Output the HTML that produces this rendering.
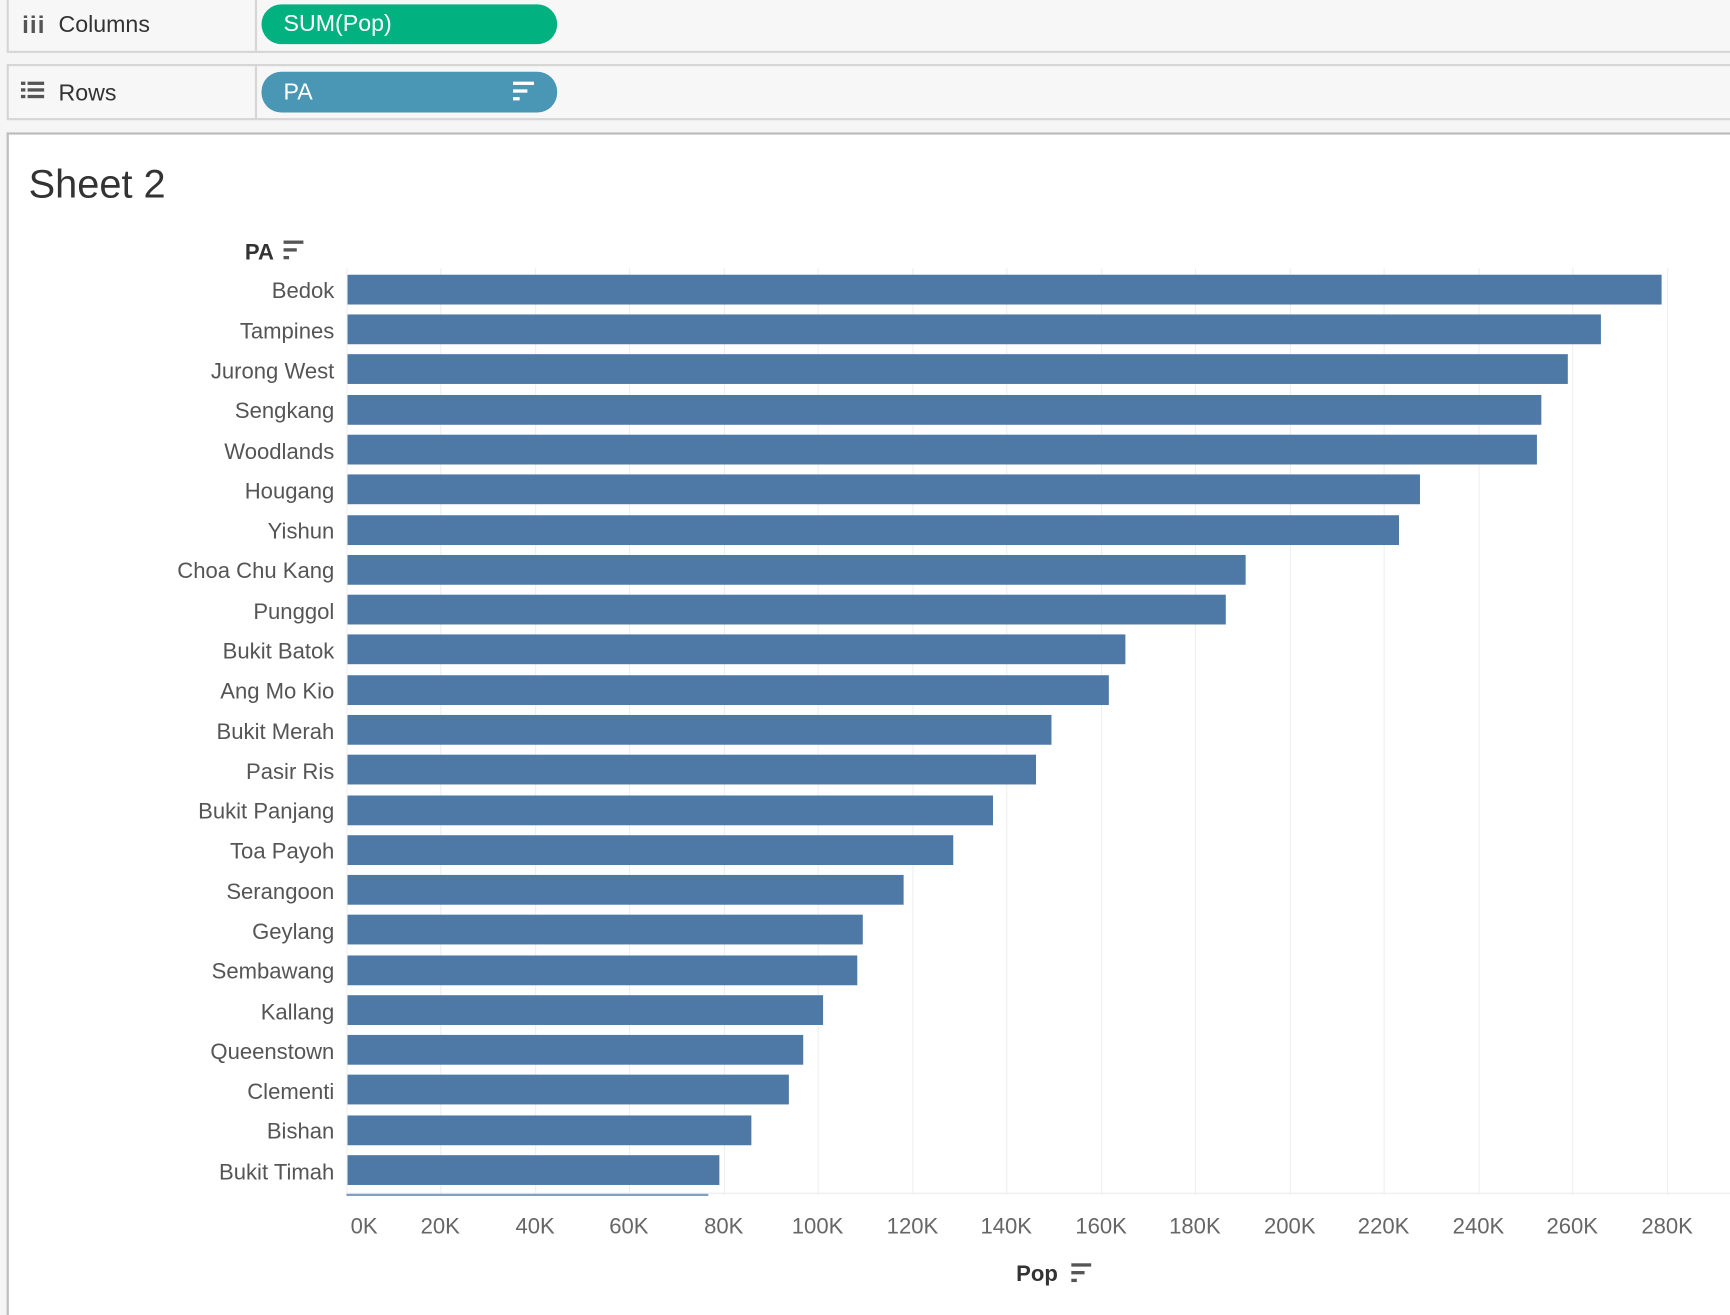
<!DOCTYPE html>
<html><head><style>
html,body{margin:0;padding:0;background:#f5f5f5;}
body{width:1730px;height:1308px;overflow:hidden;position:relative;font-family:"Liberation Sans",sans-serif;}
#w{position:absolute;left:0;top:0;width:1568px;height:1186px;transform:scale(1.10332);transform-origin:0 0;}
.a{position:absolute;}
.lbl{position:absolute;right:1265px;font-size:20px;color:#555;white-space:nowrap;line-height:24px;margin-top:2px;}
.bar{position:absolute;left:315px;height:27px;background:#4e79a7;}
.g{position:absolute;top:243px;width:1px;height:840px;background:#efefef;}
.t{position:absolute;top:1101px;font-size:20px;color:#666;width:80px;text-align:center;margin-left:-40px;}
</style></head><body><div id="w">
<div class="a" style="left:6px;top:-2px;width:1570px;height:46px;border:2px solid #d6d6d6;background:#f7f7f7;"></div>
<div class="a" style="left:231px;top:0;width:2px;height:46px;background:#d6d6d6;"></div>
<div class="a" style="left:20px;top:10px;font-size:22px;color:#555;font-weight:bold;letter-spacing:1px;">iii</div>
<div class="a" style="left:53px;top:11px;font-size:21px;color:#333;">Columns</div>
<div class="a" style="left:237px;top:4px;width:268px;height:36px;border-radius:18px;background:#02b180;"></div>
<div class="a" style="left:257px;top:10px;font-size:21px;color:#fff;">SUM(Pop)</div>

<div class="a" style="left:6px;top:58px;width:1570px;height:47px;border:2px solid #d6d6d6;background:#f7f7f7;"></div>
<div class="a" style="left:231px;top:60px;width:2px;height:47px;background:#d6d6d6;"></div>
<div class="a" style="left:19px;top:74px;width:4px;height:3px;background:#555;"></div>
<div class="a" style="left:25px;top:74px;width:15px;height:3px;background:#555;"></div>
<div class="a" style="left:19px;top:80px;width:4px;height:3px;background:#555;"></div>
<div class="a" style="left:25px;top:80px;width:15px;height:3px;background:#555;"></div>
<div class="a" style="left:19px;top:86px;width:4px;height:3px;background:#555;"></div>
<div class="a" style="left:25px;top:86px;width:15px;height:3px;background:#555;"></div>
<div class="a" style="left:53px;top:73px;font-size:21px;color:#333;">Rows</div>
<div class="a" style="left:237px;top:65px;width:268px;height:37px;border-radius:18px;background:#4a96b5;"></div>
<div class="a" style="left:257px;top:72px;font-size:21px;color:#fff;">PA</div>
<div class="a" style="left:465px;top:74px;width:19px;height:3px;background:#fff;"></div>
<div class="a" style="left:465px;top:81px;width:13px;height:3px;background:#fff;"></div>
<div class="a" style="left:465px;top:88px;width:6px;height:3px;background:#fff;"></div>

<div class="a" style="left:6px;top:120px;width:1570px;height:1070px;border-top:2px solid #bdbdbd;border-left:2px solid #bdbdbd;background:#fff;"></div>
<div class="a" style="left:26px;top:146px;font-size:36px;color:#333;">Sheet 2</div>
<div class="a" style="left:222px;top:218px;font-size:20px;font-weight:bold;color:#333;">PA</div>
<div class="a" style="left:257px;top:218px;width:18px;height:3px;background:#555;"></div>
<div class="a" style="left:257px;top:225px;width:12px;height:3px;background:#555;"></div>
<div class="a" style="left:257px;top:232px;width:5px;height:3px;background:#555;"></div>

<div class="g" style="left:314px"></div><div class="g" style="left:399px"></div><div class="g" style="left:485px"></div><div class="g" style="left:570px"></div><div class="g" style="left:656px"></div><div class="g" style="left:741px"></div><div class="g" style="left:827px"></div><div class="g" style="left:912px"></div><div class="g" style="left:998px"></div><div class="g" style="left:1083px"></div><div class="g" style="left:1169px"></div><div class="g" style="left:1254px"></div><div class="g" style="left:1340px"></div><div class="g" style="left:1425px"></div><div class="g" style="left:1511px"></div>
<div class="a" style="left:314px;top:1081px;width:1254px;height:1px;background:#ececec;"></div>
<div class="a" style="left:314px;top:1082px;width:328px;height:2px;background:#7f9fc4;"></div>

<div class="t" style="left:330px">0K</div><div class="t" style="left:399px">20K</div><div class="t" style="left:485px">40K</div><div class="t" style="left:570px">60K</div><div class="t" style="left:656px">80K</div><div class="t" style="left:741px">100K</div><div class="t" style="left:827px">120K</div><div class="t" style="left:912px">140K</div><div class="t" style="left:998px">160K</div><div class="t" style="left:1083px">180K</div><div class="t" style="left:1169px">200K</div><div class="t" style="left:1254px">220K</div><div class="t" style="left:1340px">240K</div><div class="t" style="left:1425px">260K</div><div class="t" style="left:1511px">280K</div>
<div class="a" style="left:921px;top:1144px;font-size:20px;font-weight:bold;color:#333;">Pop</div>
<div class="a" style="left:971px;top:1145px;width:18px;height:3px;background:#555;"></div>
<div class="a" style="left:971px;top:1152px;width:12px;height:3px;background:#555;"></div>
<div class="a" style="left:971px;top:1159px;width:5px;height:3px;background:#555;"></div>

<div class="lbl" style="top:250px">Bedok</div><div class="bar" style="top:249px;width:1191px"></div>
<div class="lbl" style="top:287px">Tampines</div><div class="bar" style="top:285px;width:1136px"></div>
<div class="lbl" style="top:323px">Jurong West</div><div class="bar" style="top:321px;width:1106px"></div>
<div class="lbl" style="top:359px">Sengkang</div><div class="bar" style="top:358px;width:1082px"></div>
<div class="lbl" style="top:396px">Woodlands</div><div class="bar" style="top:394px;width:1078px"></div>
<div class="lbl" style="top:432px">Hougang</div><div class="bar" style="top:430px;width:972px"></div>
<div class="lbl" style="top:468px">Yishun</div><div class="bar" style="top:467px;width:953px"></div>
<div class="lbl" style="top:504px">Choa Chu Kang</div><div class="bar" style="top:503px;width:814px"></div>
<div class="lbl" style="top:541px">Punggol</div><div class="bar" style="top:539px;width:796px"></div>
<div class="lbl" style="top:577px">Bukit Batok</div><div class="bar" style="top:575px;width:705px"></div>
<div class="lbl" style="top:613px">Ang Mo Kio</div><div class="bar" style="top:612px;width:690px"></div>
<div class="lbl" style="top:650px">Bukit Merah</div><div class="bar" style="top:648px;width:638px"></div>
<div class="lbl" style="top:686px">Pasir Ris</div><div class="bar" style="top:684px;width:624px"></div>
<div class="lbl" style="top:722px">Bukit Panjang</div><div class="bar" style="top:721px;width:585px"></div>
<div class="lbl" style="top:758px">Toa Payoh</div><div class="bar" style="top:757px;width:549px"></div>
<div class="lbl" style="top:795px">Serangoon</div><div class="bar" style="top:793px;width:504px"></div>
<div class="lbl" style="top:831px">Geylang</div><div class="bar" style="top:829px;width:467px"></div>
<div class="lbl" style="top:867px">Sembawang</div><div class="bar" style="top:866px;width:462px"></div>
<div class="lbl" style="top:904px">Kallang</div><div class="bar" style="top:902px;width:431px"></div>
<div class="lbl" style="top:940px">Queenstown</div><div class="bar" style="top:938px;width:413px"></div>
<div class="lbl" style="top:976px">Clementi</div><div class="bar" style="top:974px;width:400px"></div>
<div class="lbl" style="top:1012px">Bishan</div><div class="bar" style="top:1011px;width:366px"></div>
<div class="lbl" style="top:1049px">Bukit Timah</div><div class="bar" style="top:1047px;width:337px"></div>
</div></body></html>
